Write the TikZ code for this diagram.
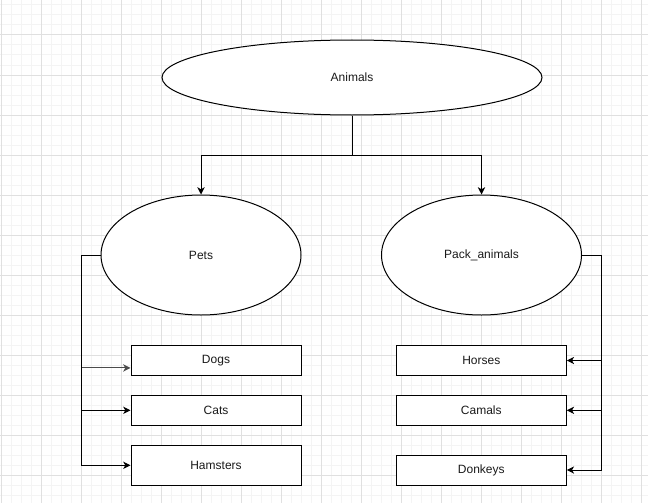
\documentclass[tikz,border=0pt]{standalone}
\usepackage{fontspec}
\setmainfont{Liberation Sans}
\usetikzlibrary{shapes.geometric,arrows.meta,calc}
\definecolor{minorgrid}{HTML}{F4F4F4}
\definecolor{majorgrid}{HTML}{E0E0E0}
\definecolor{txt}{HTML}{1A1A1A}
\tikzset{
  oval/.style={draw=black, line width=0.75pt, ellipse, fill=white, inner sep=0pt, text=txt, font=\fontsize{9}{11}\selectfont},
  leaf/.style={draw=black, line width=0.75pt, rectangle, fill=white, inner sep=0pt, minimum width=127.5pt, minimum height=22.5pt, text=txt, font=\fontsize{9}{11}\selectfont},
  tallleaf/.style={leaf, minimum height=30pt},
  arr/.style={draw=black, line width=0.75pt, -{Stealth[length=5.5pt,width=5.5pt,inset=1.6pt]}},
}
\begin{document}
\begin{tikzpicture}[x=0.75pt,y=-0.75pt]
\useasboundingbox (0,0) rectangle (648,503);
\fill[white] (0,0) rectangle (648,503);
% grid
\foreach \x in {1,11,...,641} \draw[minorgrid, line width=0.75pt] (\x,0) -- (\x,503);
\foreach \y in {5,15,...,495} \draw[minorgrid, line width=0.75pt] (0,\y) -- (648,\y);
\foreach \x in {1,41,...,641} \draw[majorgrid, line width=0.75pt] (\x,0) -- (\x,503);
\foreach \y in {35,75,...,495} \draw[majorgrid, line width=0.75pt] (0,\y) -- (648,\y);

% nodes
\node[oval, minimum width=285pt, minimum height=56.25pt] (animals) at (352,77.5) {Animals};
\node[oval, minimum width=150pt, minimum height=90pt] (pets) at (201,255) {Pets};
\node[oval, minimum width=150pt, minimum height=90pt] (pack) at (481.5,255) {Pack\_animals};

\node[leaf] (dogs) at (216,360.5) {Dogs};
\node[leaf] (cats) at (216,410.3) {Cats};
\node[tallleaf] (hamsters) at (216,465.3) {Hamsters};

\node[leaf] (horses) at (481.3,360.5) {Horses};
\node[leaf] (camals) at (481.3,410.3) {Camals};
\node[leaf] (donkeys) at (481.3,470) {Donkeys};

% junction coordinates
\coordinate (split) at (352,155);
\coordinate (lbus) at (81.5,255);
\coordinate (rbus) at (601.3,255);

% connectors
\draw[arr] (animals.south) -- (split) -| (pets.north);
\draw[arr] (animals.south) -- (split) -| (pack.north);

\draw[arr, draw=black!70] (pets.west) -- (lbus) |- ([yshift=-5.6pt]dogs.west);
\draw[arr] (pets.west) -- (lbus) |- (cats.west);
\draw[arr] (pets.west) -- (lbus) |- (hamsters.west);

\draw[arr] (pack.east) -- (rbus) |- (horses.east);
\draw[arr] (pack.east) -- (rbus) |- (camals.east);
\draw[arr] (pack.east) -- (rbus) |- (donkeys.east);
\end{tikzpicture}
\end{document}
